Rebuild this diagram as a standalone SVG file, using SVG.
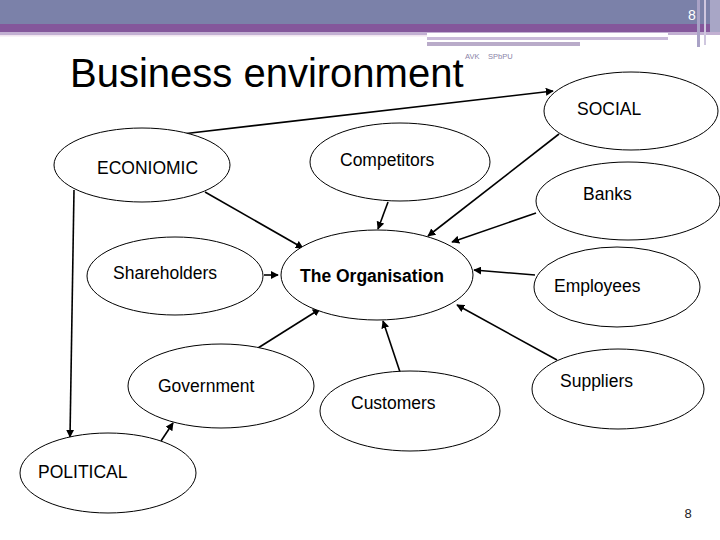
<svg xmlns="http://www.w3.org/2000/svg" width="720" height="540" viewBox="0 0 720 540">
<style>
.n ellipse{fill:#fff;stroke:#000;stroke-width:1}
.n text{font-family:"Liberation Sans",Arial,sans-serif;font-size:17.5px;fill:#000}
.c line{stroke:#000;stroke-width:1.6;marker-end:url(#ah)}
.sm{font-family:"Liberation Sans",Arial,sans-serif;font-size:7.5px;fill:#8a84a8}
</style>
<defs>
<marker id="ah" viewBox="0 0 10 10" refX="9" refY="5" markerWidth="5" markerHeight="5" orient="auto" markerUnits="strokeWidth">
<path d="M0,0 L10,5 L0,10 z" fill="#000"/>
</marker>
</defs>
<rect width="720" height="540" fill="#fff"/>
<g id="header">
<rect x="0" y="0" width="720" height="24" fill="#7b81a9"/>
<rect x="0" y="24" width="720" height="8" fill="#84579b"/>
<rect x="0" y="32" width="720" height="3" fill="#c2b0d2"/>
<rect x="0" y="35" width="427" height="1.5" fill="#f2e6f0"/>
<rect x="427" y="33" width="241" height="4" fill="#fff"/>
<rect x="427" y="37" width="241" height="3" fill="#c9bad9"/>
<rect x="427" y="42" width="153" height="4" fill="#b9abc9"/>
<rect x="697" y="0" width="3" height="47" fill="#a9a2c6"/>
<rect x="704" y="0" width="2" height="45" fill="#cfc7df"/>
<rect x="710" y="0" width="10" height="32" fill="#a8a6c6"/>
<text x="692" y="20" font-family="Liberation Sans,Arial,sans-serif" font-size="14" fill="#fff" text-anchor="middle">8</text>
</g>
<text x="70" y="87" font-family="Liberation Sans,Arial,sans-serif" font-size="40" fill="#000">Business environment</text>
<text x="465" y="59" class="sm">AVK</text>
<text x="488" y="59" class="sm">SPbPU</text>
<g class="c" id="connectors">
<line x1="182" y1="134" x2="553" y2="91"/>
<line x1="205" y1="192" x2="303" y2="248"/>
<line x1="388" y1="202" x2="378" y2="229"/>
<line x1="559" y1="134" x2="428" y2="236"/>
<line x1="536" y1="213" x2="452" y2="242"/>
<line x1="535" y1="275" x2="474" y2="270"/>
<line x1="557" y1="360" x2="457" y2="305"/>
<line x1="400" y1="372" x2="383" y2="321"/>
<line x1="258" y1="348" x2="320" y2="309"/>
<line x1="264" y1="275" x2="278" y2="275"/>
<line x1="74" y1="190" x2="70" y2="437"/>
<line x1="161" y1="441" x2="173" y2="423"/>
</g>
<g class="n" id="economic"><ellipse cx="142" cy="165" rx="88" ry="37"/><text x="97" y="174">ECONIOMIC</text></g>
<g class="n" id="competitors"><ellipse cx="400" cy="162" rx="90" ry="39"/><text x="340" y="166">Competitors</text></g>
<g class="n" id="social"><ellipse cx="631" cy="111" rx="87" ry="39"/><text x="577" y="115">SOCIAL</text></g>
<g class="n" id="banks"><ellipse cx="628" cy="201" rx="92" ry="39"/><text x="583" y="200">Banks</text></g>
<g class="n" id="organisation"><ellipse cx="377" cy="275" rx="96" ry="45"/><text x="300" y="282" font-weight="bold">The Organisation</text></g>
<g class="n" id="shareholders"><ellipse cx="175" cy="276" rx="88" ry="39"/><text x="113" y="279">Shareholders</text></g>
<g class="n" id="employees"><ellipse cx="617" cy="287" rx="83" ry="40"/><text x="554" y="292">Employees</text></g>
<g class="n" id="government"><ellipse cx="221" cy="386" rx="93" ry="42"/><text x="158" y="392">Government</text></g>
<g class="n" id="customers"><ellipse cx="410" cy="411" rx="90" ry="40"/><text x="351" y="409">Customers</text></g>
<g class="n" id="suppliers"><ellipse cx="618" cy="389" rx="86" ry="40"/><text x="560" y="387">Suppliers</text></g>
<g class="n" id="political"><ellipse cx="108" cy="473" rx="88" ry="40"/><text x="38" y="478">POLITICAL</text></g>
<text x="688" y="518" font-family="Liberation Sans,Arial,sans-serif" font-size="13" fill="#222" text-anchor="middle">8</text>
</svg>
